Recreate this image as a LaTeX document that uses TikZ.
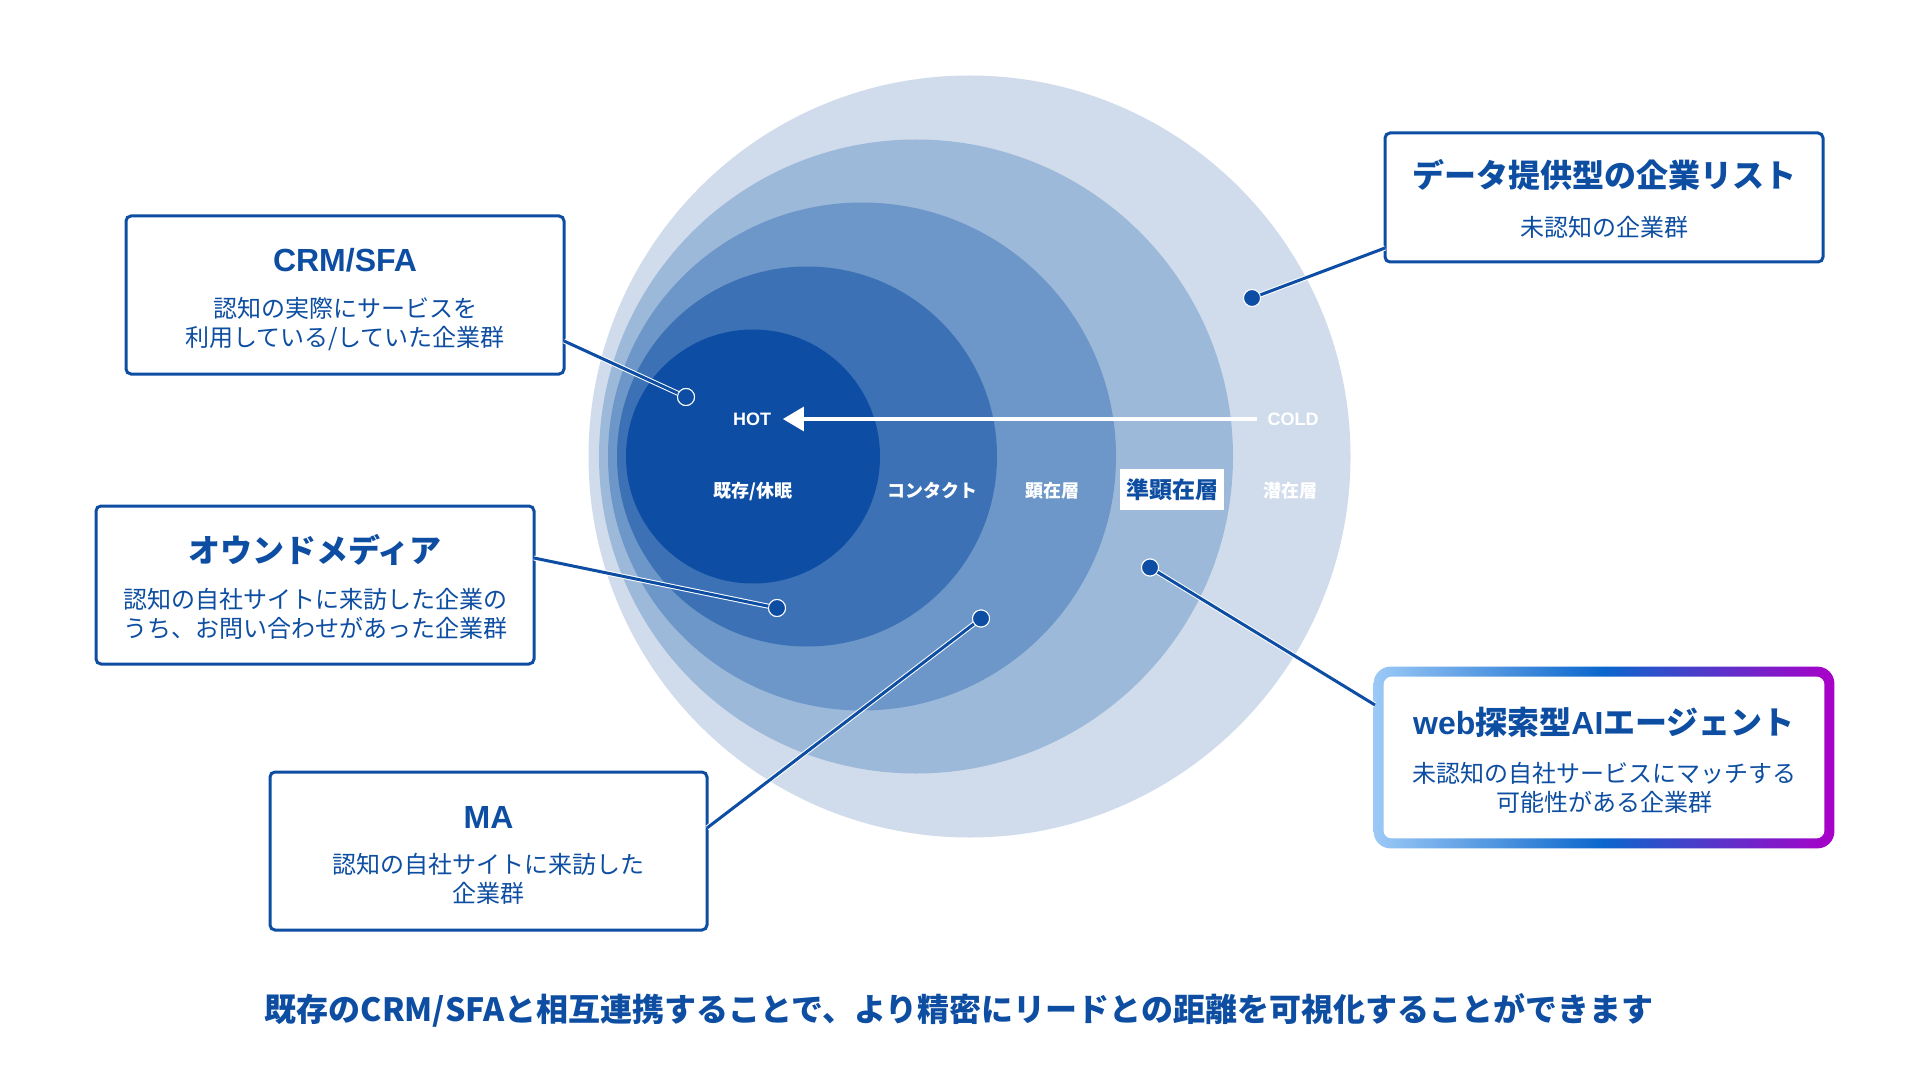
\documentclass[tikz,border=0pt]{standalone}
\usepackage{fontspec}
\setmainfont{Noto Sans CJK JP}
\newfontfamily\lat{Liberation Sans}
\usetikzlibrary{arrows.meta}
\definecolor{cA}{HTML}{D0DCEC}
\definecolor{cB}{HTML}{9DB9D9}
\definecolor{cC}{HTML}{6C97C8}
\definecolor{cD}{HTML}{3C72B5}
\definecolor{cE}{HTML}{0D4DA3}
\definecolor{cBlue}{HTML}{0D4EA2}
\definecolor{wL}{HTML}{9CC9F6}
\definecolor{wM}{HTML}{0A66CC}
\definecolor{wR}{HTML}{AA00C8}
\tikzset{
  box/.style={draw=cBlue, line width=1.5pt, rounded corners=2.5pt, fill=white, inner sep=0pt},
  ttl/.style={text=cBlue, font=\fontsize{16}{19}\selectfont\bfseries, inner sep=0pt},
  sub/.style={text=cBlue, font=\fontsize{12}{14.2}\selectfont, align=center, inner sep=0pt},
  lbl/.style={text=white, font=\fontsize{9}{10}\selectfont\bfseries, inner sep=0pt},
  dotc/.style={circle, fill=cE, draw=white, line width=0.5pt, minimum size=8.5pt, inner sep=0pt},
  link/.style={draw=white, line width=0.5pt, double=cE, double distance=1.5pt},
}
\begin{document}
\begin{tikzpicture}[x=0.5pt,y=-0.5pt]
\useasboundingbox[fill=white] (0,0) rectangle (1920,1080);
% circles
\fill[cA] (969.5,456.5) circle[radius=190.5pt];
\fill[cB] (916,456.5) circle[radius=158.5pt];
\fill[cC] (862,456.5) circle[radius=127pt];
\fill[cD] (807,456.5) circle[radius=95pt];
\fill[cE] (753,456.5) circle[radius=63.5pt];
% labels
\node[lbl] (hot) at (752,419) {\lat\bfseries HOT};
\node[lbl] (cold) at (1293,419) {\lat\bfseries COLD};
\draw[white, line width=1.6pt, -{Triangle[length=10.5pt, width=12pt]}] ([xshift=-5pt]cold.west) -- ([xshift=5.75pt]hot.east);
\node[lbl] (l1) at (753,491) {既存/休眠};
\node[lbl] (l2) at (932,491) {コンタクト};
\node[lbl] (l3) at (1052,491) {顕在層};
\node[fill=white, minimum width=52pt, minimum height=20.5pt, inner sep=0pt, text=cBlue, font=\fontsize{11.5}{12}\selectfont\bfseries] (l4) at (1172,489.5) {準顕在層};
\node[lbl] (l5) at (1290,491) {潜在層};
% boxes
\node[box, minimum width=219pt, minimum height=79pt] (crm) at (345,295) {};
\node[ttl] (crmT) at (345,260) {\lat\bfseries CRM/SFA};
\node[sub] (crmS) at (345,324) {認知の実際にサービスを\\利用している/していた企業群};

\node[box, minimum width=219pt, minimum height=79pt] (own) at (315,585) {};
\node[ttl] (ownT) at (315,550) {オウンドメディア};
\node[sub] (ownS) at (315,614) {認知の自社サイトに来訪した企業の\\うち、お問い合わせがあった企業群};

\node[box, minimum width=218.5pt, minimum height=79pt] (ma) at (488.5,851) {};
\node[ttl] (maT) at (488.5,817) {\lat\bfseries MA};
\node[sub] (maS) at (488.5,879) {認知の自社サイトに来訪した\\企業群};

\node[box, minimum width=219pt, minimum height=64.5pt] (data) at (1604,197.5) {};
\node[ttl] (dataT) at (1604,175) {データ提供型の企業リスト};
\node[sub] (dataS) at (1604,227) {未認知の企業群};

\node[minimum width=230pt, minimum height=90.5pt, inner sep=0pt] (web) at (1604,757.5) {};
\shade[rounded corners=8.5pt, left color=wL, right color=wR, middle color=wM] (web.south west) rectangle (web.north east);
\fill[white, rounded corners=4pt] ([shift={(5pt,5pt)}]web.south west) rectangle ([shift={(-5pt,-5pt)}]web.north east);
\node[ttl] (webT) at (1604,722) {{\lat\bfseries web}探索型{\lat\bfseries AI}エージェント};
\node[sub] (webS) at (1604,788) {未認知の自社サービスにマッチする\\可能性がある企業群};

% connectors
\coordinate (crmA) at (564,341);
\coordinate (ownA) at (534,558);
\coordinate (maA) at (707,828);
\coordinate (dataA) at (1385,248);
\coordinate (webA) at (1375,705);
\node[dotc] (crmD) at (686,397) {};
\node[dotc] (ownD) at (777,608) {};
\node[dotc] (maD) at (981,618.5) {};
\node[dotc] (dataD) at (1252,298) {};
\node[dotc] (webD) at (1150,567.5) {};
\draw[link] (crmA) -- (crmD.center);
\draw[link] (ownA) -- (ownD.center);
\draw[link] (maA) -- (maD.center);
\draw[link] (dataA) -- (dataD.center);
\draw[link] (webA) -- (webD.center);
\node[dotc] at (crmD) {};
\node[dotc] at (ownD) {};
\node[dotc] at (maD) {};
\node[dotc] at (dataD) {};
\node[dotc] at (webD) {};

% bottom caption
\node[text=cBlue, font=\fontsize{16}{19}\selectfont\bfseries, inner sep=0pt] (cap) at (959,1010) {既存のCRM/SFAと相互連携することで、より精密にリードとの距離を可視化することができます};
\end{tikzpicture}
\end{document}
